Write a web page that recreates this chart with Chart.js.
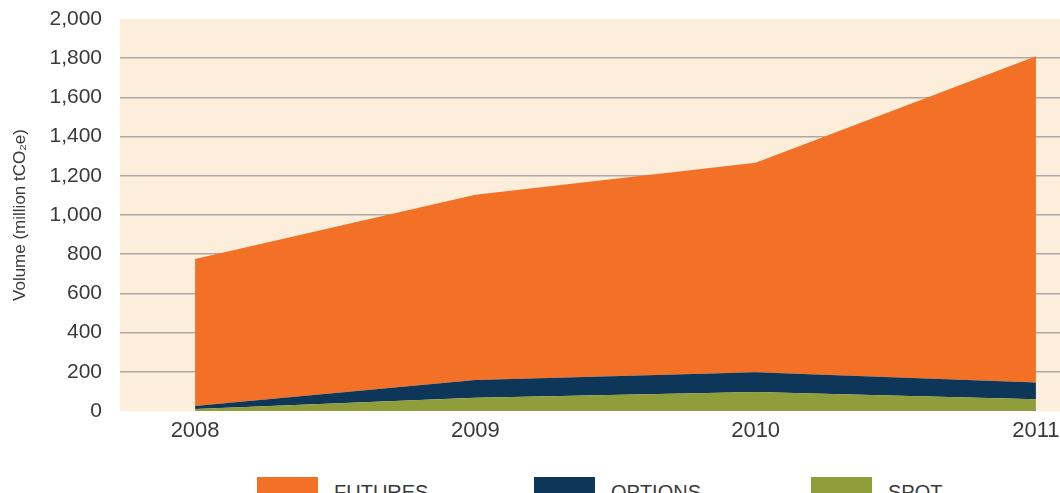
<!DOCTYPE html>
<html lang="en">
<head>
    <meta charset="UTF-8">
    <title>Carbon market volume by contract type</title>
    <script src="https://cdn.jsdelivr.net/npm/chart.js@4.4.1/dist/chart.umd.min.js"></script>
    <style>
        body {
            margin: 0;
            background: #fff;
            overflow: hidden;
            font-family: "Liberation Sans", Arial, sans-serif;
        }
        .wrap {
            position: relative;
            width: 1060px;
            height: 493px;
        }
        #legend {
            position: absolute;
            left: 257px;
            top: 477px;
            display: flex;
        }
        .item {
            width: 277px;
            display: flex;
            align-items: flex-start;
        }
        .box {
            width: 61px;
            height: 28px;
        }
        .label {
            margin-left: 16px;
            font-size: 20px;
            line-height: 28px;
            padding-top: 1px;
            color: #3a3a3a;
        }
    </style>
</head>
<body>
    <div class="wrap">
        <canvas id="volumeChart" width="1060" height="470"></canvas>
        <div id="legend"></div>
    </div>

    <script>
        // values (million tCO2e)
        const years = [2008, 2009, 2010, 2011];
        const spot = [10, 68, 97, 60];
        const options = [15, 90, 101, 85];
        const futures = [751, 945, 1069, 1665];
        const yTicks = [0, 200, 400, 600, 800, 1000, 1200, 1400, 1600, 1800, 2000];

        const seriesNames = ['FUTURES', 'OPTIONS', 'SPOT'];
        const colours = { FUTURES: '#F37027', OPTIONS: '#0E3659', SPOT: '#8F9D3A' };

        const toPoints = arr => years.map((yr, i) => ({ x: yr, y: arr[i] }));

        const plotBg = {
            id: 'plotBg',
            beforeDraw(chart) {
                const { ctx, chartArea: a } = chart;
                ctx.save();
                ctx.fillStyle = '#FDEEDB';
                ctx.fillRect(a.left, a.top, a.right - a.left, a.bottom - a.top);
                ctx.restore();
            }
        };

        const ctx = document.getElementById('volumeChart').getContext('2d');
        new Chart(ctx, {
            type: 'line',
            data: {
                datasets: [{
                    label: 'SPOT',
                    data: toPoints(spot),
                    backgroundColor: colours.SPOT,
                    fill: 'origin'
                }, {
                    label: 'OPTIONS',
                    data: toPoints(options),
                    backgroundColor: colours.OPTIONS,
                    fill: '-1'
                }, {
                    label: 'FUTURES',
                    data: toPoints(futures),
                    backgroundColor: colours.FUTURES,
                    fill: '-1'
                }]
            },
            options: {
                responsive: false,
                animation: false,
                elements: {
                    line: { borderWidth: 0, tension: 0 },
                    point: { radius: 0 }
                },
                layout: { padding: { top: 19, right: 0, left: 0, bottom: 0 } },
                plugins: {
                    legend: { display: false },
                    tooltip: { enabled: false }
                },
                scales: {
                    x: {
                        type: 'linear',
                        min: 2007.732,
                        max: 2011.086,
                        afterBuildTicks: scale => { scale.ticks = years.map(v => ({ value: v })); },
                        afterFit: scale => {
                            scale.height = 59;
                            scale.paddingLeft = 0;
                            scale.paddingRight = 0;
                        },
                        grid: { display: false, drawTicks: false },
                        border: { display: false },
                        ticks: {
                            padding: 7,
                            color: '#3a3a3a',
                            font: { family: 'Liberation Sans', size: 22 },
                            callback: v => String(v)
                        }
                    },
                    y: {
                        stacked: true,
                        min: 0,
                        max: 2000,
                        afterBuildTicks: scale => { scale.ticks = yTicks.map(v => ({ value: v })); },
                        afterFit: scale => {
                            scale.width = 120;
                            scale.paddingTop = 0;
                            scale.paddingBottom = 0;
                        },
                        grid: {
                            drawTicks: false,
                            lineWidth: 1.5,
                            color: c => (c.tick.value === 0 || c.tick.value === 2000) ? 'rgba(0,0,0,0)' : '#ABA9A6'
                        },
                        border: { display: false },
                        ticks: {
                            padding: 18,
                            color: '#3a3a3a',
                            font: { family: 'Liberation Sans', size: 21 },
                            callback: v => v.toLocaleString('en-US')
                        },
                        title: {
                            display: true,
                            text: 'Volume (million tCO₂e)',
                            color: '#3a3a3a',
                            font: { family: 'Liberation Sans', size: 17 },
                            padding: { top: 10, bottom: 0 }
                        }
                    }
                }
            },
            plugins: [plotBg]
        });

        // legend below the plot, in the reference order
        const legend = document.getElementById('legend');
        seriesNames.forEach(name => {
            const item = document.createElement('div');
            item.className = 'item';
            const box = document.createElement('div');
            box.className = 'box';
            box.style.background = colours[name];
            const label = document.createElement('span');
            label.className = 'label';
            label.textContent = name;
            item.appendChild(box);
            item.appendChild(label);
            legend.appendChild(item);
        });
    </script>
</body>
</html>
